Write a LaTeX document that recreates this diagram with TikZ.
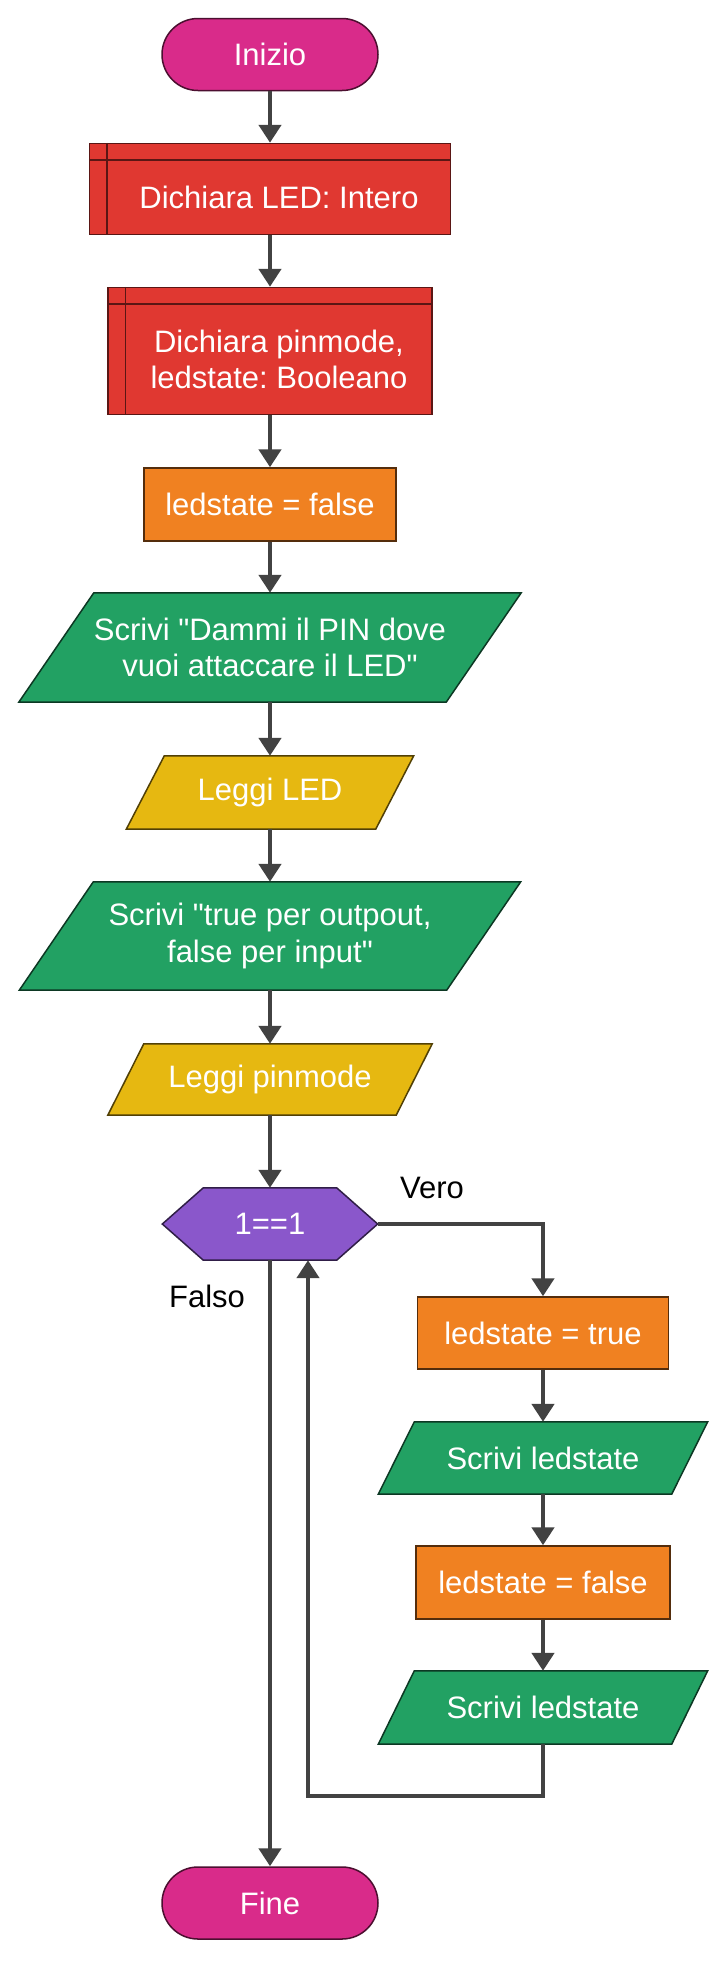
\documentclass[tikz,border=0pt]{standalone}
\usepackage{fontspec}
\setmainfont{Liberation Sans}[Ligatures=TeXOff]
\frenchspacing
\usetikzlibrary{arrows.meta,calc,backgrounds}
\definecolor{startpink}{HTML}{D92B8A}
\definecolor{declred}{HTML}{E03831}
\definecolor{assignorange}{HTML}{F08121}
\definecolor{outgreen}{HTML}{22A163}
\definecolor{inyellow}{HTML}{E6B811}
\definecolor{looppurple}{HTML}{8A57CB}
\definecolor{wiregray}{HTML}{424242}

\begin{document}
\begin{tikzpicture}[x=1pt, y=-1pt, font=\fontsize{31}{36.5}\selectfont,
  box/.style={draw, line width=1.5pt, text=white, align=center, inner sep=2pt},
  terminal/.style={box, fill=startpink, draw=startpink!35!black, rounded corners=36pt, minimum width=216pt, minimum height=72pt},
  declare/.style={box, fill=declred, draw=declred!40!black},
  subtext/.style={text=white, align=center, inner sep=0pt},
  subline/.style={line width=1.5pt, declred!40!black},
  assign/.style={box, fill=assignorange, draw=assignorange!35!black, minimum height=73pt},
  iobox/.style={text=white, align=center, inner sep=0pt},
  decision/.style={text=white, minimum width=215pt, minimum height=72pt, inner sep=0pt},
  shapeline/.style={line width=1.5pt, fill=#1, draw=#1!35!black},
  conn/.style={line width=4.5pt, wiregray, -{Triangle[length=18pt,width=22pt]}},
  lbl/.style={text=black, inner sep=0pt}]
\useasboundingbox (0,0) rectangle (721,1963);

% main column
\node[terminal] (inizio) at (270,54.5) {Inizio};
\node[declare, minimum width=361pt, minimum height=91pt] (dl) at (270,189) {};
\node[subtext] (dltext) at ($(dl.center)+(9,8.5)$) {Dichiara LED: Intero};
\node[declare, minimum width=324pt, minimum height=127pt] (dp) at (270,351) {};
\node[subtext] (dptext) at ($(dp.center)+(9,8.5)$) {Dichiara pinmode,\\ ledstate: Booleano};
\foreach \n in {dl,dp} {
  \draw[subline] ([xshift=18pt]\n.north west) -- ([xshift=18pt]\n.south west);
  \draw[subline] ([yshift=-17pt]\n.north west) -- ([yshift=-17pt]\n.north east);
}
\node[assign, minimum width=252pt] (lf) at (270,504.5) {ledstate = false};
\node[iobox, minimum width=427pt, minimum height=109pt] (sd) at (270,647.5) {Scrivi "Dammi il PIN dove\\ vuoi attaccare il LED"};
\node[iobox, minimum width=249pt, minimum height=73pt] (ll) at (270,792.5) {Leggi LED};
\node[iobox, minimum width=427pt, minimum height=108pt] (st) at (270,936) {Scrivi "true per outpout,\\ false per input"};
\node[iobox, minimum width=288pt, minimum height=71pt] (lp) at (270,1079.5) {Leggi pinmode};
\node[decision] (dec) at (270,1224) {1==1};
\node[terminal] (fine) at (270,1903) {Fine};

% loop body
\node[assign, minimum width=251pt, minimum height=72pt] (lt) at (543,1333) {ledstate = true};
\node[iobox, minimum width=293pt, minimum height=72pt] (sl1) at (543,1458) {Scrivi ledstate};
\node[assign, minimum width=254pt] (lf2) at (543,1582.5) {ledstate = false};
\node[iobox, minimum width=293pt, minimum height=73pt] (sl2) at (543,1707.5) {Scrivi ledstate};

\node[lbl] (vero) at (432,1188) {Vero};
\node[lbl] (falso) at (207,1296) {Falso};
\coordinate (back) at (308,1796);

\begin{scope}[on background layer]
\fill[white] (0,0) rectangle (721,1963);
% parallelograms: node / half slant / colour
\foreach \n/\h/\c in {sd/37.5/outgreen, ll/19/inyellow, st/37/outgreen, lp/18/inyellow, sl1/18/outgreen, sl2/18/outgreen} {
  \draw[shapeline=\c] ([xshift=-\h pt]\n.south west) -- ([xshift=\h pt]\n.north west) -- ([xshift=\h pt]\n.north east) -- ([xshift=-\h pt]\n.south east) -- cycle;
}
\draw[shapeline=looppurple] (dec.west) -- ([xshift=41pt]dec.north west) -- ([xshift=-41pt]dec.north east) -- (dec.east) -- ([xshift=-41pt]dec.south east) -- ([xshift=41pt]dec.south west) -- cycle;
\end{scope}

\draw[conn] (inizio.south) -- (dl.north);
\draw[conn] (dl.south) -- (dp.north);
\draw[conn] (dp.south) -- (lf.north);
\draw[conn] (lf.south) -- (sd.north);
\draw[conn] (sd.south) -- (ll.north);
\draw[conn] (ll.south) -- (st.north);
\draw[conn] (st.south) -- (lp.north);
\draw[conn] (lp.south) -- (dec.north);
\draw[conn] (dec.east) -| (lt.north);
\draw[conn] (lt.south) -- (sl1.north);
\draw[conn] (sl1.south) -- (lf2.north);
\draw[conn] (lf2.south) -- (sl2.north);
\draw[conn] (sl2.south) |- (back) -- ([xshift=38pt]dec.south);
\draw[conn] (dec.south) -- (fine.north);
\end{tikzpicture}
\end{document}
